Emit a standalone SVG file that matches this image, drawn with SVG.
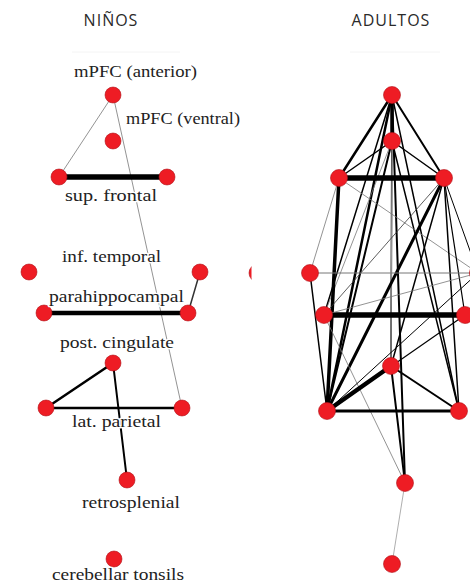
<svg xmlns="http://www.w3.org/2000/svg" width="470" height="584" viewBox="0 0 470 584">
<style>
.title{font-family:"Open Sans","Noto Sans",sans-serif;font-size:16px;fill:#2a2a2a;letter-spacing:1px;text-anchor:middle}
.lbl{font-family:"Liberation Serif","DejaVu Serif",serif;font-size:17px;fill:#222;text-anchor:middle;stroke:#fff;stroke-width:2.5px;paint-order:stroke;stroke-linejoin:round}
.node circle{fill:#ee1c24;stroke:#b01018;stroke-width:0.6}
.e{fill:none;stroke:#000;stroke-linecap:round}
.g{stroke:#777}
.g2{stroke:#999}
.d{stroke:#333}
.w08{stroke-width:0.8}
.w1{stroke-width:1}
.w12{stroke-width:1.2}
.w15{stroke-width:1.5}
.w2{stroke-width:2}
.w25{stroke-width:2.5}
.w3{stroke-width:3}
.w35{stroke-width:3.5}
.w4{stroke-width:4.5}
.w5{stroke-width:5.5}
</style>
<defs>
<clipPath id="cl"><rect x="240" y="0" width="11.5" height="584"/></clipPath>
</defs>
<rect width="470" height="584" fill="#fff"/>
<line x1="72" y1="52" x2="180" y2="52" stroke="#f4f4f4" stroke-width="1"/>
<line x1="350" y1="52" x2="440" y2="52" stroke="#f4f4f4" stroke-width="1"/>
<text class="title" x="111" y="26">NIÑOS</text>
<text class="title" x="391" y="26">ADULTOS</text>

<g id="connectors">
  <!-- left panel: niños -->
  <line class="e g w08" x1="113" y1="95" x2="59" y2="177"/>
  <line class="e g w08" x1="113" y1="95" x2="182" y2="408"/>
  <line class="e w5" x1="59" y1="177" x2="167" y2="177"/>
  <line class="e d w15" x1="200" y1="272" x2="188" y2="313"/>
  <line class="e w4" x1="44" y1="313" x2="188" y2="313"/>
  <line class="e w25" x1="113" y1="363" x2="46" y2="408"/>
  <line class="e w2" x1="113" y1="363" x2="127" y2="480"/>
  <line class="e w25" x1="46" y1="408" x2="182" y2="408"/>
  <!-- right panel: adultos -->
  <line class="e w35" x1="392" y1="95" x2="392" y2="141"/>
  <line class="e w25" x1="392" y1="95" x2="339" y2="178"/>
  <line class="e w2" x1="392" y1="95" x2="444" y2="178"/>
  <line class="e w25" x1="392" y1="95" x2="327" y2="411"/>
  <line class="e w15" x1="392" y1="95" x2="324" y2="315"/>
  <line class="e w15" x1="392" y1="95" x2="459" y2="411"/>
  <line class="e w2" x1="392" y1="95" x2="405" y2="483"/>
  <line class="e w15" x1="392" y1="95" x2="391" y2="366"/>
  <line class="e w15" x1="392" y1="141" x2="339" y2="178"/>
  <line class="e w15" x1="392" y1="141" x2="444" y2="178"/>
  <line class="e w2" x1="392" y1="141" x2="327" y2="411"/>
  <line class="e w15" x1="392" y1="141" x2="459" y2="411"/>
  <line class="e g2 w1" x1="392" y1="141" x2="391" y2="366"/>
  <line class="e g w08" x1="392" y1="141" x2="324" y2="315"/>
  <line class="e w5" x1="339" y1="178" x2="444" y2="178"/>
  <line class="e w35" x1="339" y1="178" x2="327" y2="411"/>
  <line class="e g w08" x1="339" y1="178" x2="310" y2="273"/>
  <line class="e g w08" x1="339" y1="178" x2="478" y2="273"/>
  <line class="e w3" x1="444" y1="178" x2="327" y2="411"/>
  <line class="e w15" x1="444" y1="178" x2="459" y2="411"/>
  <line class="e w12" x1="444" y1="178" x2="465" y2="315"/>
  <line class="e w1" x1="444" y1="178" x2="478" y2="273"/>
  <line class="e w15" x1="444" y1="178" x2="391" y2="366"/>
  <line class="e d w08" x1="444" y1="178" x2="324" y2="315"/>
  <line class="e g w1" x1="310" y1="273" x2="478" y2="273"/>
  <line class="e w15" x1="310" y1="273" x2="327" y2="411"/>
  <line class="e w5" x1="324" y1="315" x2="465" y2="315"/>
  <line class="e g w08" x1="324" y1="315" x2="478" y2="273"/>
  <line class="e g w08" x1="324" y1="315" x2="405" y2="483"/>
  <line class="e w1" x1="327" y1="411" x2="478" y2="273"/>
  <line class="e w12" x1="327" y1="411" x2="465" y2="315"/>
  <line class="e w3" x1="327" y1="411" x2="459" y2="411"/>
  <line class="e w4" x1="327" y1="411" x2="391" y2="366"/>
  <line class="e w2" x1="391" y1="366" x2="459" y2="411"/>
  <line class="e w2" x1="391" y1="366" x2="405" y2="483"/>
  <line class="e g2 w08" x1="405" y1="483" x2="392" y2="564"/>
</g>

<!-- left panel nodes -->
<g id="n-mpfc-ant" class="node"><circle cx="113" cy="95" r="8"/><text class="lbl" x="135.5" y="77" textLength="123" lengthAdjust="spacingAndGlyphs">mPFC (anterior)</text></g>
<g id="n-mpfc-ven" class="node"><circle cx="113" cy="141" r="8"/><text class="lbl" x="183" y="124" textLength="114" lengthAdjust="spacingAndGlyphs">mPFC (ventral)</text></g>
<g id="n-supfrontal" class="node"><circle cx="59" cy="177" r="8"/><circle cx="167" cy="177" r="8"/><text class="lbl" x="111" y="201" textLength="92" lengthAdjust="spacingAndGlyphs">sup. frontal</text></g>
<g id="n-inftemporal" class="node"><circle cx="29" cy="272" r="8"/><circle cx="200" cy="272" r="8"/><text class="lbl" x="111.5" y="262" textLength="99" lengthAdjust="spacingAndGlyphs">inf. temporal</text></g>
<g id="n-parahippo" class="node"><circle cx="44" cy="313" r="8"/><circle cx="188" cy="313" r="8"/><text class="lbl" x="116.5" y="302" textLength="135" lengthAdjust="spacingAndGlyphs">parahippocampal</text></g>
<g id="n-postcing" class="node"><circle cx="113" cy="363" r="8"/><text class="lbl" x="117" y="348" textLength="114" lengthAdjust="spacingAndGlyphs">post. cingulate</text></g>
<g id="n-latparietal" class="node"><circle cx="46" cy="408" r="8"/><circle cx="182" cy="408" r="8"/><text class="lbl" x="116.5" y="427" textLength="89" lengthAdjust="spacingAndGlyphs">lat. parietal</text></g>
<g id="n-retrosplenial" class="node"><circle cx="127" cy="480" r="8"/><text class="lbl" x="131" y="508" textLength="98" lengthAdjust="spacingAndGlyphs">retrosplenial</text></g>
<g id="n-cerebellar" class="node"><circle cx="114" cy="559" r="8"/><text class="lbl" x="118" y="580" textLength="132" lengthAdjust="spacingAndGlyphs">cerebellar tonsils</text></g>

<!-- right panel nodes -->
<g id="r-partial" class="node" clip-path="url(#cl)"><circle cx="258" cy="273" r="9"/></g>
<g id="r-mpfc-ant" class="node"><circle cx="392" cy="95" r="8.5"/></g>
<g id="r-mpfc-ven" class="node"><circle cx="392" cy="141" r="8.5"/></g>
<g id="r-supfrontal" class="node"><circle cx="339" cy="178" r="8.5"/><circle cx="444" cy="178" r="8.5"/></g>
<g id="r-inftemporal" class="node"><circle cx="310" cy="273" r="8.5"/><circle cx="478" cy="273" r="8.5"/></g>
<g id="r-parahippo" class="node"><circle cx="324" cy="315" r="8.5"/><circle cx="465" cy="315" r="8.5"/></g>
<g id="r-postcing" class="node"><circle cx="391" cy="366" r="8.5"/></g>
<g id="r-latparietal" class="node"><circle cx="327" cy="411" r="8.5"/><circle cx="459" cy="411" r="8.5"/></g>
<g id="r-retrosplenial" class="node"><circle cx="405" cy="483" r="8.5"/></g>
<g id="r-cerebellar" class="node"><circle cx="392" cy="564" r="8.5"/></g>
</svg>
